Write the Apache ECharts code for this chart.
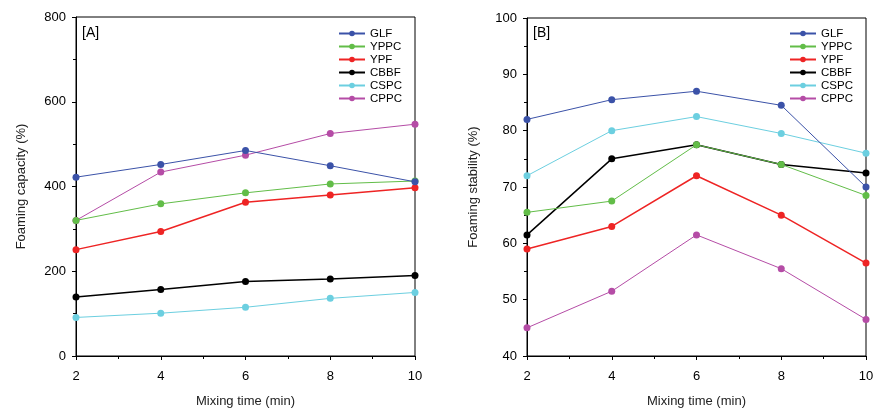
<!DOCTYPE html>
<html><head><meta charset="utf-8">
<script src="https://cdn.jsdelivr.net/npm/echarts@6/dist/echarts.min.js"></script>
<style>html,body{margin:0;padding:0;background:#fff}#c{width:881px;height:410px}</style>
</head><body><div id="c"></div>
<script>
var mixingTime = [2, 4, 6, 8, 10];
var seriesNames = ['GLF', 'YPPC', 'YPF', 'CBBF', 'CSPC', 'CPPC'];
var colors = ['#3b52a8', '#62bd48', '#ee2424', '#000000', '#6ccfe0', '#b54ca6'];
var lineWidths = [1, 1, 1.5, 1.5, 1, 1];
// Panel A: Foaming capacity (%)
var capGLF  = [422, 452, 485, 449, 411];
var capYPPC = [320, 359, 385, 406, 413];
var capYPF  = [251, 294, 363, 380, 397];
var capCBBF = [139, 157, 176, 182, 190];
var capCSPC = [91, 101, 115, 136, 150];
var capCPPC = [320, 434, 474, 525, 547];
// Panel B: Foaming stability (%)
var stbGLF  = [82, 85.5, 87, 84.5, 70];
var stbYPPC = [65.5, 67.5, 77.5, 74, 68.5];
var stbYPF  = [59, 63, 72, 65, 56.5];
var stbCBBF = [61.5, 75, 77.5, 74, 72.5];
var stbCSPC = [72, 80, 82.5, 79.5, 76];
var stbCPPC = [45, 51.5, 61.5, 55.5, 46.5];

var capData = [capGLF, capYPPC, capYPF, capCBBF, capCSPC, capCPPC];
var stbData = [stbGLF, stbYPPC, stbYPF, stbCBBF, stbCSPC, stbCPPC];

var font = 'Liberation Sans, Arial, sans-serif';
function xAx(idx) {
  return {
    type: 'value', gridIndex: idx, min: 2, max: 10, interval: 2,
    name: 'Mixing time (min)', nameLocation: 'middle', nameGap: 39,
    nameTextStyle: {fontFamily: font, fontSize: 13, color: '#222'},
    axisLine: {lineStyle: {color: '#000', width: 1}},
    axisTick: {show: true, length: 4, lineStyle: {color: '#000'}},
    minorTick: {show: true, splitNumber: 2, length: 3, lineStyle: {color: '#000'}},
    axisLabel: {fontFamily: font, fontSize: 13, color: '#000', margin: 14},
    splitLine: {show: false}
  };
}
function yAx(idx, min, max, interval, name) {
  return {
    type: 'value', gridIndex: idx, min: min, max: max, interval: interval,
    name: name, nameLocation: 'middle', nameGap: idx === 0 ? 48 : 47,
    nameTextStyle: {fontFamily: font, fontSize: 13, color: '#222'},
    axisLine: {lineStyle: {color: '#000', width: 1}},
    axisTick: {show: true, length: 4, lineStyle: {color: '#000'}},
    minorTick: {show: true, splitNumber: 2, length: 3, lineStyle: {color: '#000'}},
    axisLabel: {fontFamily: font, fontSize: 13, color: '#000', margin: 10},
    splitLine: {show: false}
  };
}
var series = [];
[capData, stbData].forEach(function (set, gi) {
  set.forEach(function (vals, i) {
    series.push({
      name: seriesNames[i], type: 'line', xAxisIndex: gi, yAxisIndex: gi,
      data: mixingTime.map(function (t, k) { return [t, vals[k]]; }),
      symbol: 'circle', symbolSize: 7, color: colors[i],
      lineStyle: {width: lineWidths[i], color: colors[i]},
      itemStyle: {color: colors[i]},
      emphasis: {disabled: true}, animation: false, z: 10 - i
    });
  });
});
function legend(left) {
  return {
    data: seriesNames, orient: 'vertical', left: left, top: 27, padding: 0,
    itemWidth: 26, itemHeight: 7, itemGap: 0,
    textStyle: {fontFamily: font, fontSize: 11.5, lineHeight: 13, color: '#000', padding: [0, 0, 0, 0]},
    selectedMode: false
  };
}
var chart = echarts.init(document.getElementById('c'), null, {renderer: 'canvas'});
chart.setOption({
  backgroundColor: '#fff',
  animation: false,
  grid: [
    {left: 76, top: 17, width: 339, height: 339, show: true, borderColor: '#000', borderWidth: 1, containLabel: false, outerBoundsMode: 'none'},
    {left: 527, top: 18, width: 339, height: 338, show: true, borderColor: '#000', borderWidth: 1, containLabel: false, outerBoundsMode: 'none'}
  ],
  xAxis: [xAx(0), xAx(1)],
  yAxis: [yAx(0, 0, 800, 200, 'Foaming capacity (%)'), yAx(1, 40, 100, 10, 'Foaming stability (%)')],
  legend: [legend(338), legend(789)],
  graphic: [
    {type: 'text', left: 82, top: 26, style: {text: '[A]', font: '14px ' + font, fill: '#000'}},
    {type: 'text', left: 533, top: 26, style: {text: '[B]', font: '14px ' + font, fill: '#000'}}
  ],
  series: series
});
</script></body></html>
